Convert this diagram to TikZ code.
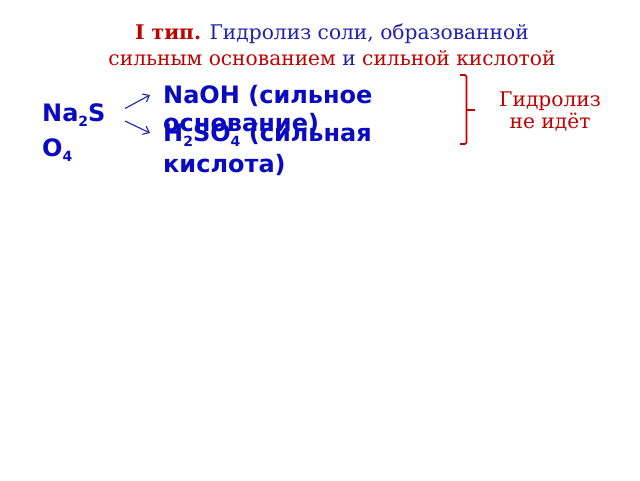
\documentclass[tikz,border=0pt]{standalone}
\usepackage{fontspec}
\setmainfont{DejaVu Serif}
\setsansfont{DejaVu Sans}
\usepackage{xcolor}
\usetikzlibrary{arrows.meta}
\definecolor{bg}{HTML}{FFFFFF}
\definecolor{darkred}{HTML}{C00000}
\definecolor{navy}{HTML}{2020B0}
\definecolor{boldblue}{HTML}{0A0AC0}
\newcommand{\idx}[1]{\raisebox{-5pt}{\fontsize{14}{14}\selectfont #1}}
\tikzset{
  title/.style={font=\fontsize{20.2}{25.7}\selectfont, align=center, inner sep=0pt},
  chem/.style={text=boldblue, font=\sffamily\bfseries\fontsize{24}{28.7}\selectfont, align=left, inner sep=0pt},
  note/.style={text=darkred, font=\fontsize{20.2}{21.6}\selectfont, align=center, inner sep=0pt},
  arr/.style={draw=navy, line width=1.1pt, -{Straight Barb[length=5.5pt,width=9pt]}},
  brace/.style={draw=darkred, line width=1.6pt, rounded corners=1.5pt},
}

\begin{document}
\begin{tikzpicture}[x=1pt,y=-1pt]
  \useasboundingbox[fill=bg] (0,0) rectangle (640,480);
  \node[title, anchor=base] (head) at (332,65)
    {\textcolor{darkred}{\textbf{I тип.}} \textcolor{navy}{Гидролиз соли, образованной}\\
     \textcolor{darkred}{сильным основанием} \textcolor{navy}{и} \textcolor{darkred}{сильной кислотой}};
  \node[chem, anchor=base west, font=\sffamily\bfseries\fontsize{24}{35}\selectfont] (salt) at (42,156.7)
    {Na\idx{2}S\\O\idx{4}};
  \node[chem, anchor=base west] (base) at (163,131.7)
    {NaOH (сильное\\основание)};
  \node[chem, anchor=base west, font=\sffamily\bfseries\fontsize{24}{30.3}\selectfont] (acid) at (163,172)
    {H\idx{2}SO\idx{4} (сильная\\кислота)};
  \coordinate (out1) at (125,108.5);
  \coordinate (out2) at (125,121);
  \coordinate (in1) at (150,95);
  \coordinate (in2) at (150,133);
  \draw[arr] (out1) -- (in1);
  \draw[arr] (out2) -- (in2);
  \draw[brace] (460,75) -- (466.5,75) -- (466.5,144) -- (460,144);
  \draw[brace] (466.5,110) -- (475,110);
  \node[note, anchor=base] (result) at (550,128.3) {Гидролиз\\не идёт};
\end{tikzpicture}
\end{document}
